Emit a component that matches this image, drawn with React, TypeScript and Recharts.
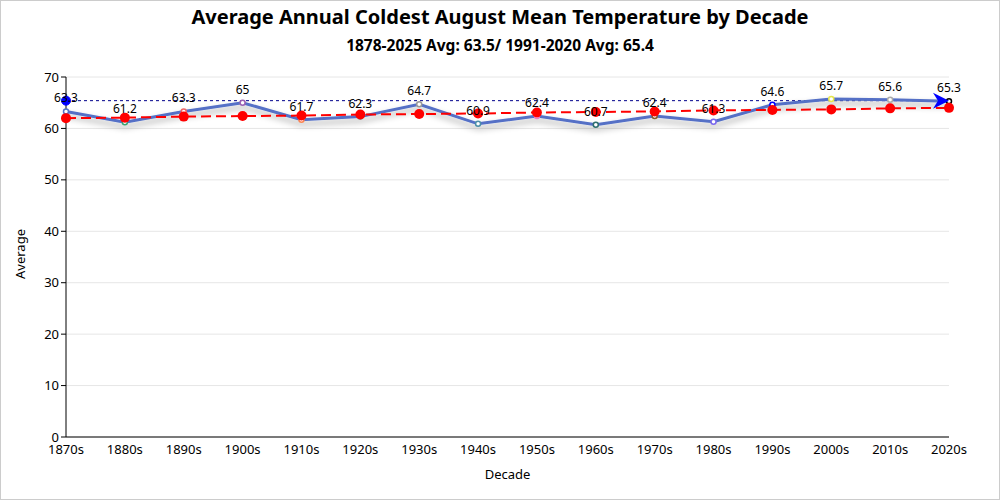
import React from 'react';
import {
  LineChart,
  Line,
  XAxis,
  YAxis,
  CartesianGrid,
  LabelList,
  ReferenceLine,
  ReferenceDot,
} from 'recharts';

const decades = [
  '1870s', '1880s', '1890s', '1900s', '1910s', '1920s', '1930s', '1940s',
  '1950s', '1960s', '1970s', '1980s', '1990s', '2000s', '2010s', '2020s',
];
const averages = [
  63.3, 61.2, 63.3, 65, 61.7, 62.3, 64.7, 60.9, 62.4, 60.7, 62.4, 61.3, 64.6, 65.7, 65.6, 65.3,
];
const trend = [
  62.0, 62.1, 62.3, 62.4, 62.5, 62.7, 62.8, 62.9, 63.1, 63.2, 63.3, 63.5, 63.6, 63.7, 63.9, 64.0,
];
const dotColors = [
  '#5470c6', '#3ba272', '#ee6666', '#9a60b4', '#fc8452', '#5f9ea0', '#999999', '#4b8fa8',
  '#ea7ccc', '#2f6f6f', '#8b5a2b', '#7b68ee', '#0000ff', '#e6e64c', '#aaaaaa', '#000000',
];
const yTicks = [0, 10, 20, 30, 40, 50, 60, 70];
const recentAvg = 65.4;

const data = decades.map((d, i) => ({ decade: d, average: averages[i], trend: trend[i] }));

const font = "'Segoe UI', 'Noto Sans', sans-serif";

const SmallDot = (props: any) => {
  const { cx, cy, index } = props;
  if (cx == null || cy == null) return null;
  return <circle cx={cx} cy={cy} r={2.5} fill="#fff" stroke={dotColors[index]} strokeWidth={1.5} />;
};

const Arrow = (props: any) => {
  const { cx, cy } = props;
  if (cx == null || cy == null) return null;
  return (
    <path
      d={`M${cx - 16},${cy - 8} L${cx},${cy} L${cx - 16},${cy + 8} L${cx - 11},${cy} Z`}
      fill="#0000ff"
    />
  );
};

export default function App() {
  return (
    <div style={{ position: 'fixed', left: 0, top: 0, width: 1000, height: 500, background: '#fff', fontFamily: font }}>
      <style>{`.blue-line .recharts-line-curve { filter: url(#lineShadow); }`}</style>
      <div style={{ position: 'absolute', inset: 0, border: '1px solid #ccc', boxSizing: 'border-box', pointerEvents: 'none' }} />
      <div style={{ position: 'absolute', top: 3, width: 1000, textAlign: 'center', fontSize: 20, fontWeight: 700, color: '#000' }}>
        Average Annual Coldest August Mean Temperature by Decade
      </div>
      <div style={{ position: 'absolute', top: 34, width: 1000, textAlign: 'center', fontSize: 15.5, fontWeight: 700, color: '#000' }}>
        1878-2025 Avg: 63.5/ 1991-2020 Avg: 65.4
      </div>
      <div style={{ position: 'absolute', left: 0, top: 0 }}>
        <LineChart width={1000} height={500} data={data} margin={{ top: 77, right: 51, left: 26, bottom: 23 }}>
          <defs>
            <filter id="lineShadow" x="-10%" y="-50%" width="120%" height="200%">
              <feDropShadow dx="0" dy="4" stdDeviation="3" floodColor="#000" floodOpacity="0.35" />
            </filter>
          </defs>
          <CartesianGrid vertical={false} stroke="#e6e6e6" />
          <XAxis
            dataKey="decade"
            height={40}
            tickLine={false}
            axisLine={{ stroke: '#000' }}
            tick={{ fill: '#000', fontSize: 13, fontFamily: font }}
            interval={0}
            label={{ value: 'Decade', position: 'insideBottom', offset: -2, fill: '#000', fontSize: 13, fontFamily: font }}
          />
          <YAxis
            width={40}
            domain={[0, 70]}
            ticks={yTicks}
            axisLine={{ stroke: '#000' }}
            tickLine={{ stroke: '#000' }}
            tickSize={5}
            tick={{ fill: '#000', fontSize: 13, fontFamily: font }}
            label={{ value: 'Average', angle: -90, position: 'insideLeft', offset: -6, fill: '#000', fontSize: 13, fontFamily: font, dy: 22 }}
          />
          <ReferenceLine y={recentAvg} stroke="#00008b" strokeDasharray="3 3" strokeWidth={1} />
          <Line
            className="blue-line"
            dataKey="average"
            stroke="#5470c6"
            strokeWidth={3}
            dot={<SmallDot />}
            activeDot={false}
            isAnimationActive={false}
          >
            <LabelList dataKey="average" position="top" offset={9} fill="#000" fontSize={12} fontFamily={font} />
          </Line>
          <Line
            dataKey="trend"
            stroke="#ff0000"
            strokeWidth={2}
            strokeDasharray="10 5"
            dot={{ r: 5, fill: '#ff0000', stroke: '#ff0000', strokeWidth: 0 }}
            activeDot={false}
            isAnimationActive={false}
          />
          <ReferenceDot x="1870s" y={recentAvg} r={4.5} fill="#0000ff" stroke="#0000ff" />
          <ReferenceDot x="2020s" y={recentAvg} shape={<Arrow />} />
        </LineChart>
      </div>
    </div>
  );
}
